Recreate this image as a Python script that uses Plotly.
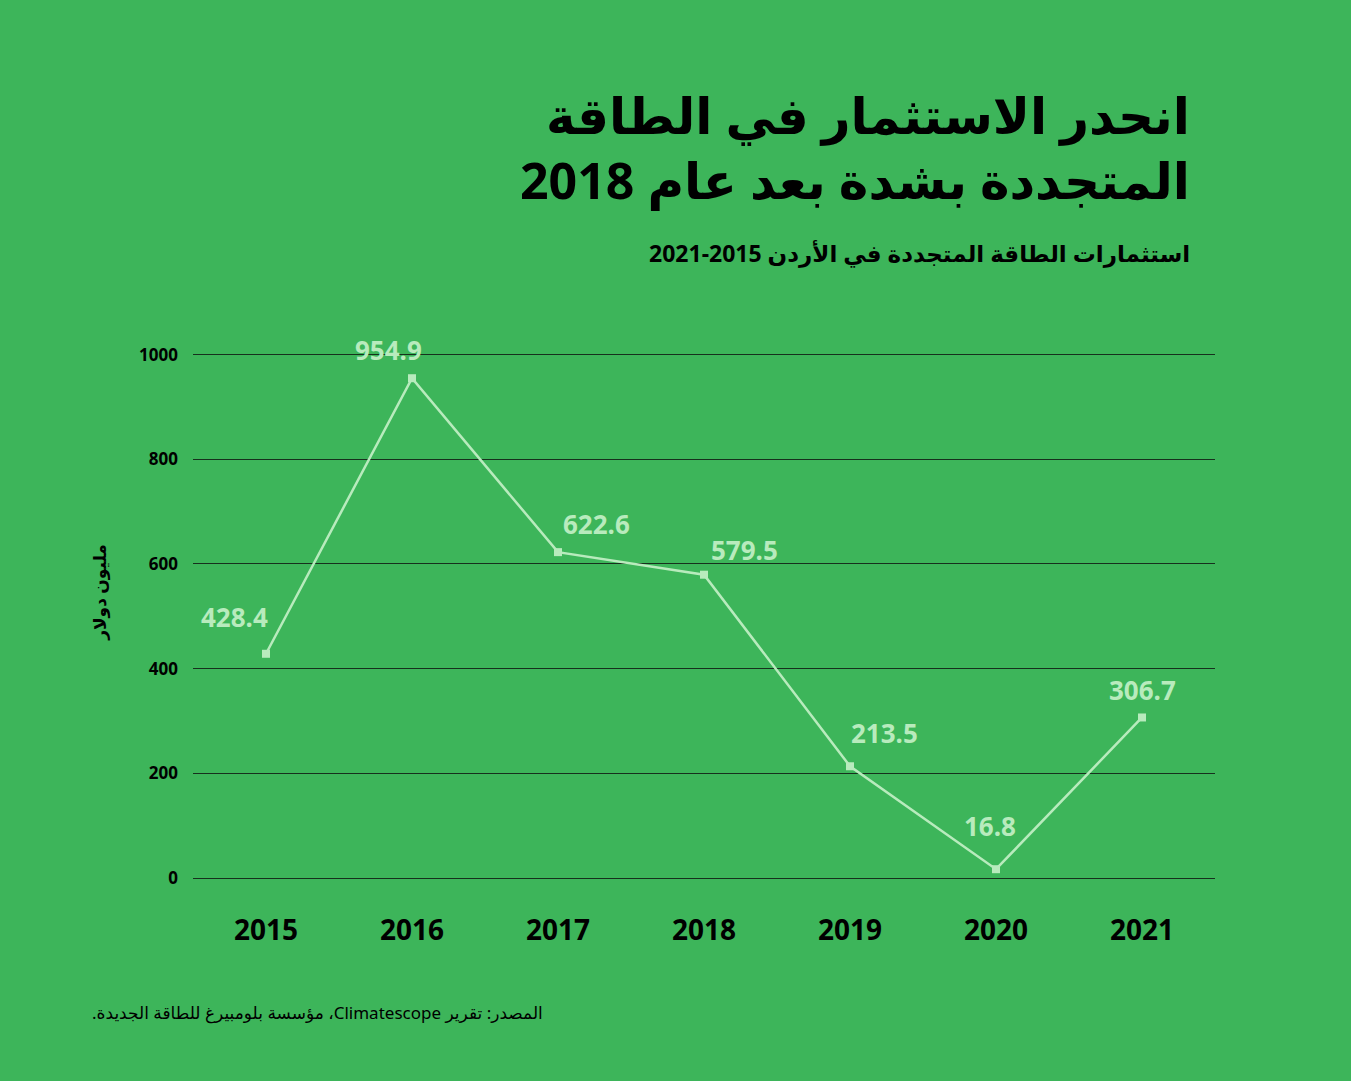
import plotly.graph_objects as go

# بيانات الاستثمار (مليون دولار)
years = ["2015", "2016", "2017", "2018", "2019", "2020", "2021"]
investment = [428.4, 954.9, 622.6, 579.5, 213.5, 16.8, 306.7]
value_labels = ["428.4", "954.9", "622.6", "579.5", "213.5", "16.8", "306.7"]
y_ticks = [0, 200, 400, 600, 800, 1000]

title_text = "انحدر الاستثمار في الطاقة<br>المتجددة بشدة بعد عام 2018"
subtitle_text = "استثمارات الطاقة المتجددة في الأردن 2015-2021"
y_title = "مليون دولار"
source_text = "المصدر: تقرير Climatescope، مؤسسة بلومبيرغ للطاقة الجديدة."

BG = "#3db55a"
LINE = "#b8ebbd"
FONT = "Noto Sans, DejaVu Sans, sans-serif"
RTL = "\u202b"
PDF = "\u202c"

# إزاحات التسميات بالبكسل
label_dx = [-32, -24, 38, 40, 34, -6, 0]
label_dy = [37, 28, 28, 25, 33, 43, 27]

fig = go.Figure()
fig.add_trace(go.Scatter(
    x=years, y=investment, mode="lines+markers",
    line=dict(color=LINE, width=2.5),
    marker=dict(symbol="square", size=8, color=LINE),
    cliponaxis=False, hoverinfo="x+y",
))

# على المحور الفئوي تُعطى المواضع برقم الفئة
for i, (y, t, dx, dy) in enumerate(zip(investment, value_labels, label_dx, label_dy)):
    fig.add_annotation(x=i, y=y, text="<b>" + t + "</b>", showarrow=False, xshift=dx, yshift=dy,
                       font=dict(family=FONT, size=26, color=LINE))

fig.add_annotation(xref="paper", yref="paper", x=0.9775, y=1.388, xanchor="right", yanchor="middle",
                   text="<b>" + title_text + "</b>", align="right", showarrow=False,
                   font=dict(family=FONT, size=50, color="black"))
fig.add_annotation(xref="paper", yref="paper", x=0.9775, y=1.188, xanchor="right", yanchor="middle",
                   text="<b>" + subtitle_text + "</b>", showarrow=False,
                   font=dict(family=FONT, size=23, color="black"))
fig.add_annotation(xref="paper", yref="paper", x=-0.091, y=0.544, xanchor="center", yanchor="middle",
                   textangle=-90, text="<b>" + y_title + "</b>", showarrow=False,
                   font=dict(family=FONT, size=17, color="black"))
fig.add_annotation(xref="paper", yref="paper", x=0.3444, y=-0.2548, xanchor="right", yanchor="middle",
                   text=RTL + source_text + PDF, showarrow=False,
                   font=dict(family=FONT, size=17, color="black"))

fig.update_xaxes(
    type="category", range=[-0.5, 6.5], showgrid=False, zeroline=False, showline=False,
    ticks="", ticklabelstandoff=33,
    tickfont=dict(family=FONT, size=28, color="black", weight="bold"),
)
fig.update_yaxes(
    range=[0, 1005], tickvals=y_ticks, showgrid=True, gridcolor="#17301d", gridwidth=1,
    zeroline=True, zerolinecolor="#17301d", zerolinewidth=1, showline=False,
    ticks="", ticklabelstandoff=14,
    tickfont=dict(family=FONT, size=17, color="black", weight="bold"),
)

fig.update_layout(
    width=1351, height=1081,
    paper_bgcolor=BG, plot_bgcolor=BG,
    margin=dict(l=193, r=136, t=352, b=203),
    showlegend=False,
)

fig.write_html("out.html", config={"displayModeBar": False},
               post_script="document.body.style.margin='0';")
